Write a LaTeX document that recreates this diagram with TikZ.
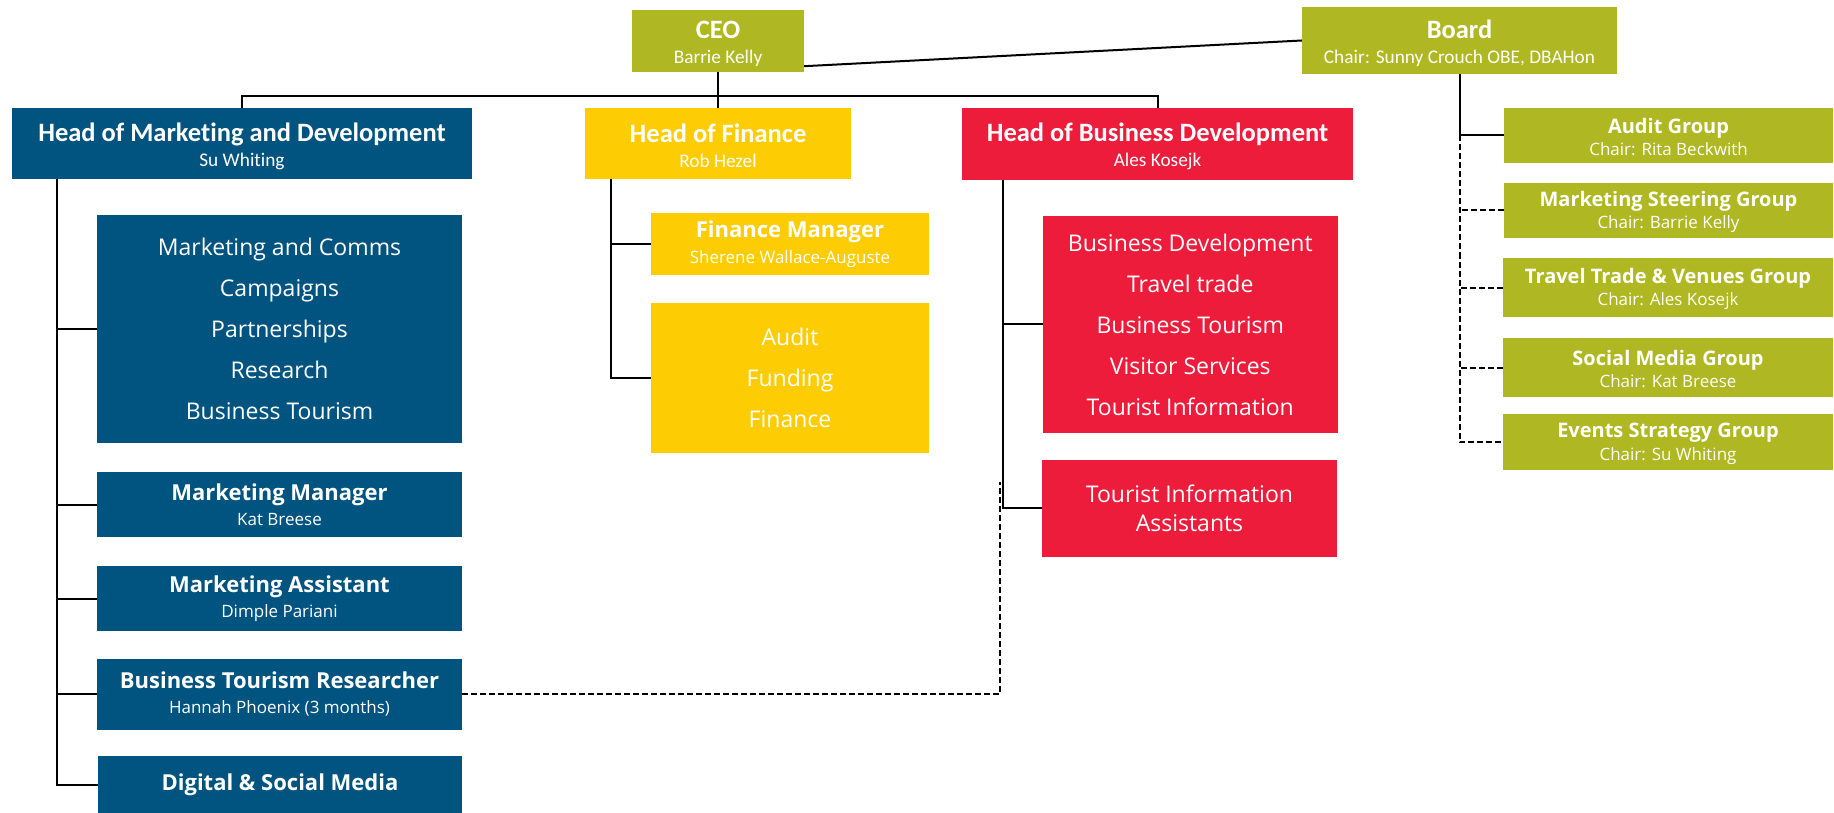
\documentclass[tikz,border=0pt]{standalone}
\usepackage{fontspec}
\newfontfamily\hfont[Ligatures={NoCommon}]{Carlito}
\newfontfamily\osans{Open Sans}
\definecolor{cgreen}{RGB}{175,184,34}
\definecolor{cblue}{RGB}{0,84,127}
\definecolor{cyellow}{RGB}{254,204,2}
\definecolor{cred}{RGB}{237,28,59}
\newcommand\hdr[2]{{\fontsize{26.5}{25}\selectfont\bfseries\rule{0pt}{24pt}#1}\\{\fontsize{19.3}{25}\selectfont #2}}
\newcommand\ttl[2]{{\fontsize{22}{25.5}\selectfont\bfseries #1}\\{\fontsize{17}{25.5}\selectfont #2}}
\newcommand\gttl[2]{{\fontsize{20}{22.5}\selectfont\bfseries\rule{0pt}{18pt}#1}\\{\fontsize{17}{22.5}\selectfont #2}}
\tikzset{
  box/.style={fill=#1, text=white, inner sep=0pt, align=center, draw=none},
  headbox/.style={box=#1, font=\hfont\fontsize{19.3}{25}\selectfont},
  rolebox/.style={box=#1, font=\osans\fontsize{17}{25.5}\selectfont},
  grpbox/.style={box=cgreen, font=\osans\fontsize{17}{22.5}\selectfont},
  listbox/.style={box=#1, font=\osans\fontsize{23}{41}\selectfont},
  conn/.style={draw=black, line width=2pt},
  dconn/.style={draw=black, line width=2pt, dash pattern=on 6pt off 3pt},
}
\begin{document}
\begin{tikzpicture}[x=1pt,y=-1pt]
\useasboundingbox (0,0) rectangle (1834,813);
% top level
\node[headbox=cgreen, minimum width=172, minimum height=62] (ceo) at (718,41) {\hdr{CEO}{Barrie Kelly}};
\node[headbox=cgreen, minimum width=315, minimum height=67] (board) at (1459.5,40.5) {\hdr{Board}{Chair: Sunny Crouch OBE, DBAHon}};
\node[headbox=cblue, minimum width=460, minimum height=71] (hom) at (242,143.5) {\hdr{Head of Marketing and Development}{Su Whiting}};
\node[headbox=cyellow, minimum width=266, minimum height=71] (hof) at (718,143.5) {\hdr{Head of Finance}{Rob Hezel}};
\node[headbox=cred, minimum width=391, minimum height=72] (hobd) at (1157.5,144) {\hdr{Head of Business Development}{Ales Kosejk}};
% marketing
\node[listbox=cblue, minimum width=365, minimum height=227] (mlist) at (279.5,329) {Marketing and Comms\\Campaigns\\Partnerships\\Research\\Business Tourism};
\node[rolebox=cblue, minimum width=365, minimum height=65] (mm) at (279.5,504.5) {\ttl{Marketing Manager}{Kat Breese}};
\node[rolebox=cblue, minimum width=365, minimum height=65] (ma) at (279.5,598.5) {\ttl{Marketing Assistant}{Dimple Pariani}};
\node[rolebox=cblue, minimum width=365, minimum height=71] (res) at (279.5,694) {\ttl{Business Tourism Researcher}{Hannah Phoenix (3 months)}};
\node[rolebox=cblue, minimum width=364, minimum height=58] (dig) at (280,785) {{\fontsize{22}{25.5}\selectfont\bfseries Digital \& Social Media}};
% finance
\node[rolebox=cyellow, minimum width=278, minimum height=62] (fm) at (790,244) {\ttl{Finance Manager}{Sherene Wallace-Auguste}};
\node[listbox=cyellow, minimum width=278, minimum height=150] (aff) at (790,378) {Audit\\Funding\\Finance};
% business development
\node[listbox=cred, minimum width=295, minimum height=217] (rlist) at (1190.3,324.4) {Business Development\\Travel trade\\Business Tourism\\Visitor Services\\Tourist Information};
\node[listbox=cred, minimum width=295, minimum height=97, font=\osans\fontsize{23}{29}\selectfont] (tia) at (1189.5,508.4) {Tourist Information\\Assistants};
% board groups
\node[grpbox, minimum width=329, minimum height=55] (audit) at (1668.5,135.5) {\gttl{Audit Group}{Chair: Rita Beckwith}};
\node[grpbox, minimum width=329, minimum height=55] (msg) at (1668.5,210.5) {\gttl{Marketing Steering Group}{Chair: Barrie Kelly}};
\node[grpbox, minimum width=330, minimum height=59] (ttv) at (1668,287.5) {\gttl{Travel Trade \& Venues Group}{Chair: Ales Kosejk}};
\node[grpbox, minimum width=330, minimum height=59] (smg) at (1668,367.5) {\gttl{Social Media Group}{Chair: Kat Breese}};
\node[grpbox, minimum width=330, minimum height=56] (esg) at (1668,442) {\gttl{Events Strategy Group}{Chair: Su Whiting}};
% coordinates
\coordinate (bus) at (718,96);
\coordinate (mtop) at (57,179);
\coordinate (ftop) at (611,179);
\coordinate (btop) at (1002.7,180);
\coordinate (dtop) at (1000.2,482);
% connectors
\draw[conn] ([yshift=6pt]ceo.south east) -- (board.west);
\draw[conn] (ceo.south) -- (hof.north);
\draw[conn] (hom.north) |- (bus) -| (hobd.north);
\draw[conn] (mtop) |- (dig.west);
\draw[conn] (mlist.west) -- (mlist.west -| mtop);
\draw[conn] (mm.west) -- (mm.west -| mtop);
\draw[conn] (ma.west) -- (ma.west -| mtop);
\draw[conn] (res.west) -- (res.west -| mtop);
\draw[conn] (ftop) |- (aff.west);
\draw[conn] (fm.west) -- (fm.west -| ftop);
\draw[conn] (btop) |- (tia.west);
\draw[conn] (rlist.west) -- (rlist.west -| btop);
\draw[dconn] (res.east) -| (dtop);
\draw[conn] (board.south) |- (audit.west);
\draw[dconn] (board.south |- audit.west) |- (esg.west);
\draw[dconn] (msg.west) -- (msg.west -| board.south);
\draw[dconn] (ttv.west) -- (ttv.west -| board.south);
\draw[dconn] (smg.west) -- (smg.west -| board.south);
\end{tikzpicture}
\end{document}
